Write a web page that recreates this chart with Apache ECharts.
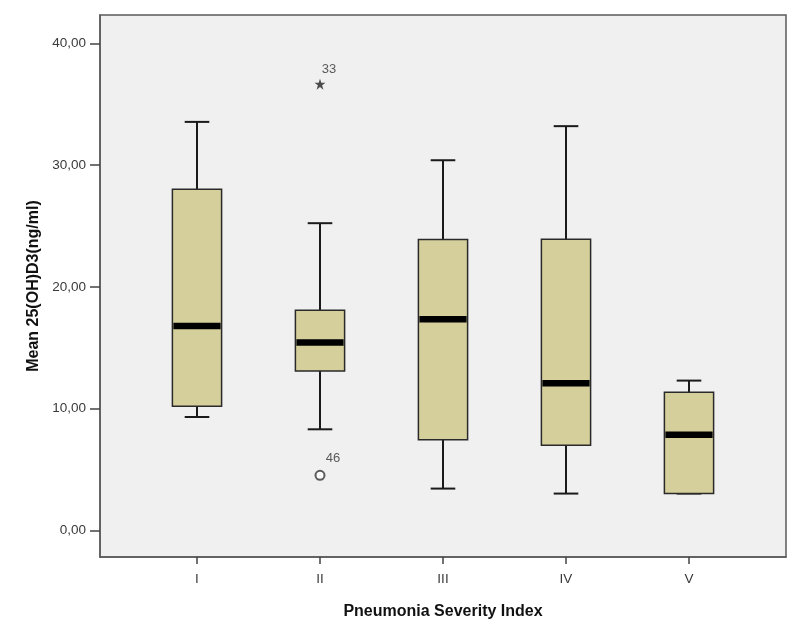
<!DOCTYPE html>
<html>
<head>
<meta charset="utf-8">
<script src="https://cdn.jsdelivr.net/npm/echarts@6/dist/echarts.min.js"></script>
<style>
html,body{margin:0;padding:0;background:#fff;}
#chart{width:800px;height:641px;}
</style>
</head>
<body>
<div id="chart"></div>
<script>
// ---- data ----
var categories = ['I', 'II', 'III', 'IV', 'V'];
var lowerWhisker = [9.31, 8.30, 3.43, 3.02, 3.02];
var q1 = [10.19, 13.09, 7.45, 6.98, 3.02];
var median = [16.79, 15.42, 17.34, 12.08, 7.86];
var q3 = [28.02, 18.08, 23.89, 23.91, 11.34];
var upperWhisker = [33.55, 25.23, 30.40, 33.20, 12.30];
var outlierCats = ['II'];
var outlierValues = [4.52];
var outlierIds = ['46'];
var extremeCats = ['II'];
var extremeValues = [36.65];
var extremeIds = ['33'];
var yTicks = [0, 10, 20, 30, 40];

// ---- build ----
var FONT = 'Liberation Sans, Arial, sans-serif';
var boxData = categories.map(function (c, i) {
  return [i + 1, lowerWhisker[i], q1[i], median[i], q3[i], upperWhisker[i]];
});
var outlierData = outlierCats.map(function (c, i) {
  return { value: [categories.indexOf(c) + 1, outlierValues[i]], name: outlierIds[i] };
});
var extremeData = extremeCats.map(function (c, i) {
  return { value: [categories.indexOf(c) + 1, extremeValues[i]], name: extremeIds[i] };
});
var starPath = 'path://M50,0 L61.8,35.4 L100,35.4 L69.1,57.3 L80.9,95.1 L50,72.4 L19.1,95.1 L30.9,57.3 L0,35.4 L38.2,35.4 Z';

function renderBox(params, api) {
  var x = api.value(0);
  var lo = api.coord([x, api.value(1)]);
  var a = api.coord([x, api.value(2)]);
  var m = api.coord([x, api.value(3)]);
  var b = api.coord([x, api.value(4)]);
  var hi = api.coord([x, api.value(5)]);
  var bw = api.size([0.4, 0])[0];
  var cw = api.size([0.2, 0])[0];
  var cx = lo[0];
  var lineStyle = { stroke: '#1a1a1a', lineWidth: 2 };
  return {
    type: 'group',
    children: [
      { type: 'line', shape: { x1: cx, y1: lo[1], x2: cx, y2: a[1] }, style: lineStyle },
      { type: 'line', shape: { x1: cx, y1: b[1], x2: cx, y2: hi[1] }, style: lineStyle },
      { type: 'line', shape: { x1: cx - cw / 2, y1: lo[1], x2: cx + cw / 2, y2: lo[1] }, style: lineStyle },
      { type: 'line', shape: { x1: cx - cw / 2, y1: hi[1], x2: cx + cw / 2, y2: hi[1] }, style: lineStyle },
      { type: 'rect', shape: { x: cx - bw / 2, y: b[1], width: bw, height: a[1] - b[1] },
        style: { fill: '#d5cf9b', stroke: '#2a2a2a', lineWidth: 1.5 } },
      { type: 'line', shape: { x1: cx - bw / 2 + 1, y1: m[1], x2: cx + bw / 2 - 1, y2: m[1] },
        style: { stroke: '#000', lineWidth: 6.5 } }
    ]
  };
}

var chart = echarts.init(document.getElementById('chart'));
chart.setOption({
  animation: false,
  backgroundColor: '#ffffff',
  grid: {
    left: 100, right: 14, top: 15, bottom: 84,
    show: true, backgroundColor: '#f0f0f0', borderColor: '#5a5a5a', borderWidth: 1.5
  },
  xAxis: {
    type: 'value',
    min: 0.2114, max: 5.7886,
    splitLine: { show: false },
    axisLine: { show: true, onZero: false, lineStyle: { color: '#5a5a5a', width: 1.5 } },
    axisTick: { show: true, inside: false, length: 7, customValues: [1, 2, 3, 4, 5], lineStyle: { color: '#444', width: 1.5 } },
    axisLabel: {
      customValues: [1, 2, 3, 4, 5],
      formatter: function (v) { return categories[Math.round(v) - 1] || ''; },
      color: '#3a3a3a', fontFamily: FONT, fontSize: 13.5, margin: 15
    },
    name: 'Pneumonia Severity Index',
    nameLocation: 'middle', nameGap: 47,
    nameTextStyle: { fontFamily: FONT, fontSize: 16, fontWeight: 'bold', color: '#111' }
  },
  yAxis: {
    type: 'value',
    min: -2.19, max: 42.33,
    splitLine: { show: false },
    axisLine: { show: true, onZero: false, lineStyle: { color: '#5a5a5a', width: 1.5 } },
    axisTick: { show: true, inside: false, length: 10, customValues: yTicks, lineStyle: { color: '#444', width: 1.5 } },
    axisLabel: {
      customValues: yTicks,
      formatter: function (v) { return v.toFixed(2).replace('.', ','); },
      color: '#3a3a3a', fontFamily: FONT, fontSize: 13.5, margin: 14
    },
    name: 'Mean 25(OH)D3(ng/ml)',
    nameLocation: 'middle', nameGap: 58,
    nameTextStyle: { fontFamily: FONT, fontSize: 16, fontWeight: 'bold', color: '#111' }
  },
  series: [
    {
      type: 'custom',
      renderItem: renderBox,
      data: boxData,
      encode: { x: 0, y: [1, 2, 3, 4, 5] },
      z: 2
    },
    {
      type: 'scatter',
      data: outlierData,
      symbol: 'emptyCircle',
      symbolSize: 9,
      itemStyle: { color: '#333', borderColor: '#333', borderWidth: 1.7 },
      label: {
        show: true, position: 'top', offset: [13, 0],
        formatter: function (p) { return p.name; },
        color: '#333', fontFamily: FONT, fontSize: 13
      },
      z: 3
    },
    {
      type: 'scatter',
      data: extremeData,
      symbol: starPath,
      symbolSize: 11,
      itemStyle: { color: '#222' },
      label: {
        show: true, position: 'top', offset: [9, 2],
        formatter: function (p) { return p.name; },
        color: '#333', fontFamily: FONT, fontSize: 13
      },
      z: 3
    }
  ]
});
</script>
</body>
</html>
